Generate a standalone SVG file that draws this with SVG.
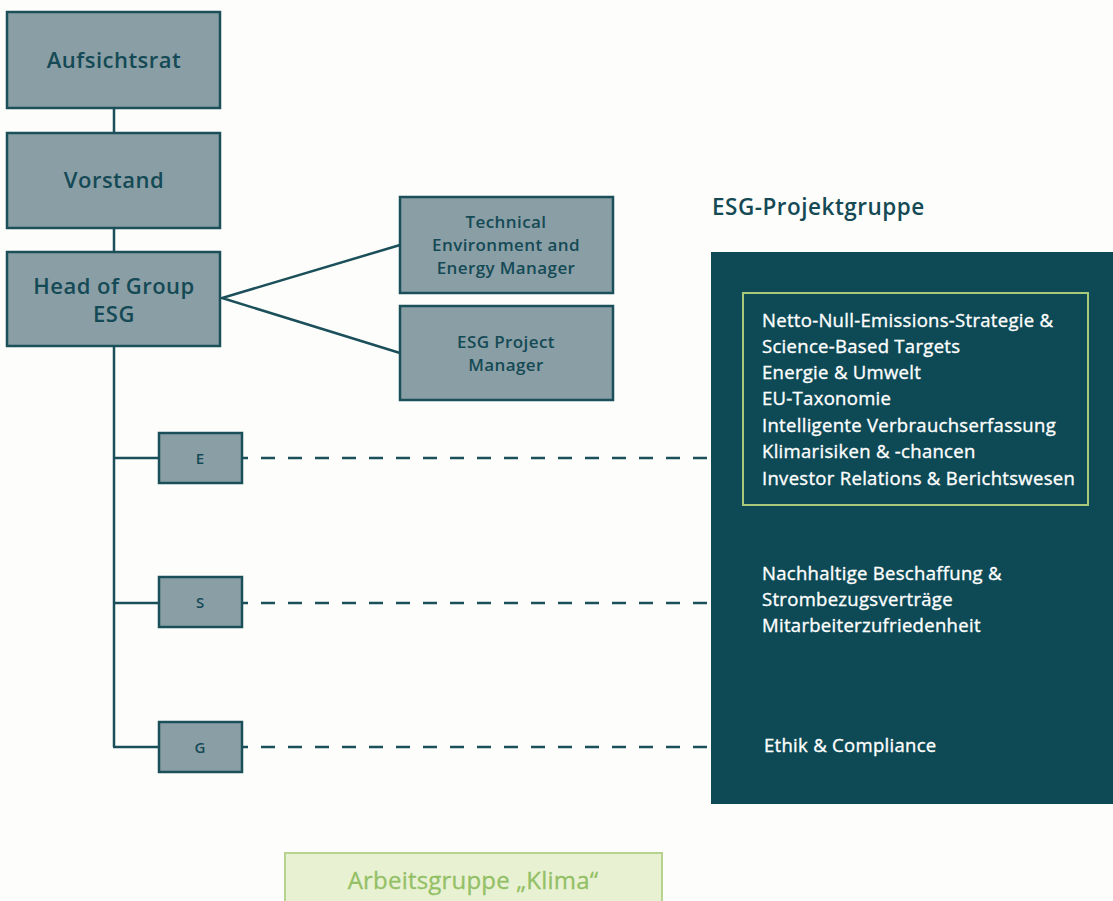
<svg xmlns="http://www.w3.org/2000/svg" width="1113" height="901" viewBox="0 0 1113 901">
<style>
.node{fill:#8a9ea5;stroke:#1b4f5a;stroke-width:2.5}
.nt{font-family:"Open Sans","Liberation Sans",sans-serif;fill:#144a55;text-anchor:middle;font-weight:600}
.ln{stroke:#1b4f5a;stroke-width:2.5;fill:none}
.dash{stroke:#1b4f5a;stroke-width:2.5;fill:none;stroke-dasharray:14 13;stroke-dashoffset:8}
.wt{font-family:"Open Sans","Liberation Sans",sans-serif;fill:#ffffff;stroke:#ffffff;stroke-width:0.35;font-size:18.5px;letter-spacing:0.3px}
</style>
<rect width="1113" height="901" fill="#fdfdfb"/>
<g id="connectors">
<line class="ln" x1="114" y1="108" x2="114" y2="133"/>
<line class="ln" x1="114" y1="228" x2="114" y2="252"/>
<line class="ln" x1="114" y1="346" x2="114" y2="747"/>
<line class="ln" x1="114" y1="458" x2="159" y2="458"/>
<line class="ln" x1="114" y1="603" x2="159" y2="603"/>
<line class="ln" x1="113" y1="747" x2="159" y2="747"/>
<polyline class="ln" points="400,245 222,298 400,353"/>
<line class="dash" x1="242" y1="458" x2="711" y2="458"/>
<line class="dash" x1="242" y1="603" x2="711" y2="603"/>
<line class="dash" x1="242" y1="747" x2="711" y2="747"/>
</g>
<g id="aufsichtsrat">
<rect class="node" x="7" y="12" width="213" height="96"/>
<text class="nt" x="114" y="68" font-size="22" letter-spacing="0.5">Aufsichtsrat</text>
</g>
<g id="vorstand">
<rect class="node" x="7" y="133" width="213" height="95"/>
<text class="nt" x="114" y="188" font-size="22" letter-spacing="0.5">Vorstand</text>
</g>
<g id="head">
<rect class="node" x="7" y="252" width="213" height="94"/>
<text class="nt" x="114" y="294" font-size="22" letter-spacing="0.5">Head of Group</text>
<text class="nt" x="114" y="322" font-size="22" letter-spacing="0.5">ESG</text>
</g>
<g id="technical">
<rect class="node" x="400" y="197" width="213" height="96"/>
<text class="nt" x="506" y="228" font-size="17" letter-spacing="0.4">Technical</text>
<text class="nt" x="506" y="251" font-size="17" letter-spacing="0.4">Environment and</text>
<text class="nt" x="506" y="274" font-size="17" letter-spacing="0.4">Energy Manager</text>
</g>
<g id="esgpm">
<rect class="node" x="400" y="306" width="213" height="94"/>
<text class="nt" x="506" y="348" font-size="17" letter-spacing="0.4">ESG Project</text>
<text class="nt" x="506" y="371" font-size="17" letter-spacing="0.4">Manager</text>
</g>
<g id="e">
<rect class="node" x="159" y="433" width="83" height="50"/>
<text class="nt" x="200" y="464" font-size="15">E</text>
</g>
<g id="s">
<rect class="node" x="159" y="577" width="83" height="50"/>
<text class="nt" x="200" y="608" font-size="15">S</text>
</g>
<g id="g">
<rect class="node" x="159" y="722" width="83" height="50"/>
<text class="nt" x="200" y="753" font-size="15">G</text>
</g>
<g id="projektgruppe">
<text x="712" y="215" font-family="Open Sans, Liberation Sans, sans-serif" font-size="22.5" font-weight="600" letter-spacing="0.5" fill="#154a55">ESG-Projektgruppe</text>
<rect x="711" y="252" width="402" height="552" fill="#0d4a55"/>
<rect x="743" y="293" width="345" height="212" fill="none" stroke="#a8c97a" stroke-width="2"/>
<text class="wt" x="762" y="327">Netto-Null-Emissions-Strategie &amp;</text>
<text class="wt" x="762" y="353">Science-Based Targets</text>
<text class="wt" x="762" y="379">Energie &amp; Umwelt</text>
<text class="wt" x="762" y="405">EU-Taxonomie</text>
<text class="wt" x="762" y="432">Intelligente Verbrauchserfassung</text>
<text class="wt" x="762" y="458">Klimarisiken &amp; -chancen</text>
<text class="wt" x="762" y="485">Investor Relations &amp; Berichtswesen</text>
<text class="wt" x="762" y="580">Nachhaltige Beschaffung &amp;</text>
<text class="wt" x="762" y="606">Strombezugsverträge</text>
<text class="wt" x="762" y="632">Mitarbeiterzufriedenheit</text>
<text class="wt" x="764" y="752">Ethik &amp; Compliance</text>
</g>
<g id="klima">
<rect x="285" y="853" width="377" height="60" fill="#e9f1d3" stroke="#b7d48e" stroke-width="2"/>
<text x="473" y="889" text-anchor="middle" font-family="Open Sans, Liberation Sans, sans-serif" font-size="24" letter-spacing="0.2" fill="#93c065" stroke="#93c065" stroke-width="0.3">Arbeitsgruppe „Klima“</text>
</g>
</svg>
